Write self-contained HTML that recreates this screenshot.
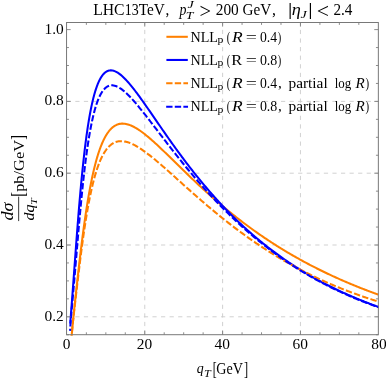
<!DOCTYPE html>
<html><head><meta charset="utf-8"><title>plot</title>
<style>html,body{margin:0;padding:0;background:#fff}body{width:386px;height:381px;overflow:hidden;font-family:"Liberation Serif",serif}</style></head>
<body>
<svg width="386" height="381" viewBox="0 0 386 381" style="display:block">
<rect width="386" height="381" fill="#fff"/>
<defs><clipPath id="c"><rect x="66.55" y="22.50" width="312.30" height="313.10"/></clipPath></defs>
<g stroke="#cccccc" stroke-width="0.9" fill="none"><g stroke-dasharray="4.2 4.39"><line x1="144.75" y1="334.70" x2="144.75" y2="22.50"/><line x1="222.60" y1="334.70" x2="222.60" y2="22.50"/><line x1="300.45" y1="334.70" x2="300.45" y2="22.50"/></g><g stroke-dasharray="4.2 4.37" stroke-dashoffset="-0.2"><line x1="66.55" y1="316.80" x2="378.35" y2="316.80"/><line x1="66.55" y1="245.00" x2="378.35" y2="245.00"/><line x1="66.55" y1="173.20" x2="378.35" y2="173.20"/><line x1="66.55" y1="101.40" x2="378.35" y2="101.40"/></g></g>
<g clip-path="url(#c)" fill="none" stroke-width="2.05" stroke-linejoin="round">
<path d="M71.31 340.00 L71.52 337.41 L71.73 334.91 L71.95 332.50 L72.16 330.16 L72.37 327.87 L72.58 325.64 L72.80 323.44 L73.01 321.28 L73.22 319.15 L73.43 317.04 L73.65 314.96 L73.86 312.89 L74.07 310.83 L74.28 308.79 L74.50 306.76 L74.71 304.74 L74.92 302.74 L75.13 300.73 L75.35 298.74 L75.56 296.76 L75.77 294.78 L75.98 292.81 L76.20 290.85 L76.41 288.90 L76.62 286.95 L76.84 285.02 L77.05 283.09 L77.26 281.16 L77.47 279.25 L77.69 277.34 L77.90 275.45 L78.11 273.56 L78.32 271.68 L78.54 269.82 L78.75 267.96 L78.96 266.11 L79.17 264.27 L79.39 262.45 L79.60 260.63 L79.81 258.83 L80.02 257.03 L80.24 255.25 L80.45 253.48 L80.66 251.73 L80.87 249.98 L81.09 248.25 L81.30 246.53 L81.51 244.83 L81.72 243.13 L81.94 241.45 L82.15 239.79 L82.36 238.13 L82.57 236.50 L82.79 234.87 L83.00 233.26 L83.21 231.66 L83.42 230.08 L83.64 228.51 L83.85 226.96 L84.06 225.42 L84.28 223.89 L84.49 222.38 L84.70 220.88 L84.91 219.40 L85.13 217.93 L85.34 216.48 L85.55 215.04 L85.76 213.62 L85.98 212.21 L86.19 210.81 L86.40 209.43 L86.61 208.07 L86.83 206.71 L87.04 205.38 L87.25 204.06 L87.46 202.75 L87.68 201.46 L87.89 200.18 L88.10 198.91 L88.31 197.66 L88.53 196.43 L88.74 195.21 L88.95 194.00 L89.16 192.80 L89.38 191.63 L89.59 190.46 L89.80 189.31 L90.01 188.17 L90.23 187.05 L90.44 185.94 L90.65 184.84 L90.86 183.76 L91.08 182.69 L91.29 181.63 L91.50 180.59 L91.72 179.56 L91.93 178.54 L92.14 177.54 L92.35 176.55 L92.57 175.57 L92.78 174.61 L92.99 173.65 L93.20 172.71 L93.42 171.79 L93.63 170.87 L93.84 169.97 L94.05 169.08 L94.27 168.20 L94.48 167.33 L94.69 166.48 L94.90 165.63 L95.12 164.80 L95.33 163.98 L95.54 163.17 L95.75 162.38 L95.97 161.59 L96.18 160.82 L96.39 160.05 L96.60 159.30 L96.82 158.56 L97.03 157.83 L97.24 157.11 L97.45 156.40 L97.67 155.70 L97.88 155.01 L98.09 154.33 L98.30 153.66 L98.52 153.00 L98.73 152.35 L98.94 151.71 L99.16 151.09 L99.37 150.47 L99.58 149.86 L99.79 149.26 L100.01 148.67 L100.22 148.09 L100.43 147.51 L100.64 146.95 L100.86 146.40 L101.07 145.85 L101.28 145.32 L101.49 144.79 L101.71 144.27 L101.92 143.76 L102.13 143.26 L102.34 142.76 L102.56 142.28 L102.77 141.80 L102.98 141.33 L103.19 140.87 L103.41 140.42 L103.62 139.98 L103.83 139.54 L104.04 139.11 L104.26 138.69 L104.47 138.28 L104.68 137.87 L104.89 137.47 L105.11 137.08 L105.32 136.69 L105.53 136.32 L105.74 135.95 L105.96 135.58 L106.17 135.23 L106.38 134.88 L106.60 134.54 L106.81 134.20 L107.02 133.87 L107.23 133.55 L107.45 133.23 L107.66 132.92 L107.87 132.62 L108.08 132.32 L108.30 132.03 L108.51 131.74 L108.72 131.47 L108.93 131.19 L109.15 130.93 L109.36 130.67 L109.57 130.41 L109.78 130.16 L110.00 129.92 L110.21 129.68 L110.42 129.45 L110.63 129.22 L110.85 129.00 L111.06 128.78 L111.27 128.57 L111.48 128.36 L111.70 128.16 L111.91 127.97 L112.12 127.78 L112.33 127.59 L112.55 127.41 L112.76 127.24 L112.97 127.07 L113.18 126.90 L113.40 126.74 L113.61 126.58 L114.63 125.89 L115.65 125.31 L116.68 124.82 L117.70 124.41 L118.72 124.10 L119.74 123.87 L120.76 123.71 L121.79 123.62 L122.81 123.60 L123.83 123.65 L124.85 123.76 L125.87 123.93 L126.90 124.15 L127.92 124.42 L128.94 124.74 L129.96 125.11 L130.98 125.52 L132.01 125.97 L133.03 126.45 L134.05 126.98 L135.07 127.54 L136.09 128.13 L137.12 128.75 L138.14 129.40 L139.16 130.07 L140.18 130.78 L141.20 131.50 L142.23 132.25 L143.25 133.01 L144.27 133.80 L145.29 134.61 L146.31 135.43 L147.33 136.27 L148.36 137.12 L149.38 137.99 L150.40 138.87 L151.42 139.76 L152.44 140.66 L153.47 141.58 L154.49 142.50 L155.51 143.43 L156.53 144.37 L157.55 145.32 L158.58 146.28 L159.60 147.24 L160.62 148.20 L161.64 149.17 L162.66 150.15 L163.69 151.13 L164.71 152.12 L165.73 153.10 L166.75 154.09 L167.77 155.09 L168.80 156.08 L169.82 157.08 L170.84 158.08 L171.86 159.08 L172.88 160.08 L173.91 161.08 L174.93 162.08 L175.95 163.08 L176.97 164.08 L177.99 165.08 L179.02 166.08 L180.04 167.08 L181.06 168.07 L182.08 169.07 L183.10 170.06 L184.13 171.05 L185.15 172.04 L186.17 173.03 L187.19 174.02 L188.21 175.00 L189.24 175.98 L190.26 176.96 L191.28 177.94 L192.30 178.91 L193.32 179.88 L194.35 180.85 L195.37 181.81 L196.39 182.77 L197.41 183.73 L198.43 184.68 L199.46 185.63 L200.48 186.58 L201.50 187.52 L202.52 188.46 L203.54 189.40 L204.57 190.33 L205.59 191.26 L206.61 192.19 L207.63 193.11 L208.65 194.02 L209.68 194.94 L210.70 195.85 L211.72 196.75 L212.74 197.65 L213.76 198.55 L214.78 199.44 L215.81 200.33 L216.83 201.22 L217.85 202.10 L218.87 202.97 L219.89 203.84 L220.92 204.71 L221.94 205.57 L222.96 206.43 L223.98 207.29 L225.00 208.14 L226.03 208.99 L227.05 209.83 L228.07 210.67 L229.09 211.50 L230.11 212.33 L231.14 213.15 L232.16 213.98 L233.18 214.79 L234.20 215.60 L235.22 216.41 L236.25 217.22 L237.27 218.02 L238.29 218.81 L239.31 219.60 L240.33 220.39 L241.36 221.17 L242.38 221.95 L243.40 222.72 L244.42 223.49 L245.44 224.26 L246.47 225.02 L247.49 225.78 L248.51 226.53 L249.53 227.28 L250.55 228.03 L251.58 228.77 L252.60 229.51 L253.62 230.24 L254.64 230.97 L255.66 231.69 L256.69 232.41 L257.71 233.13 L258.73 233.84 L259.75 234.55 L260.77 235.26 L261.80 235.96 L262.82 236.66 L263.84 237.35 L264.86 238.04 L265.88 238.72 L266.91 239.41 L267.93 240.08 L268.95 240.76 L269.97 241.43 L270.99 242.09 L272.02 242.76 L273.04 243.42 L274.06 244.07 L275.08 244.72 L276.10 245.37 L277.13 246.01 L278.15 246.65 L279.17 247.29 L280.19 247.92 L281.21 248.55 L282.23 249.18 L283.26 249.80 L284.28 250.42 L285.30 251.04 L286.32 251.65 L287.34 252.26 L288.37 252.86 L289.39 253.46 L290.41 254.06 L291.43 254.66 L292.45 255.25 L293.48 255.84 L294.50 256.42 L295.52 257.00 L296.54 257.58 L297.56 258.15 L298.59 258.72 L299.61 259.29 L300.63 259.86 L301.65 260.42 L302.67 260.98 L303.70 261.53 L304.72 262.09 L305.74 262.63 L306.76 263.18 L307.78 263.72 L308.81 264.26 L309.83 264.80 L310.85 265.33 L311.87 265.86 L312.89 266.39 L313.92 266.92 L314.94 267.44 L315.96 267.96 L316.98 268.47 L318.00 268.98 L319.03 269.49 L320.05 270.00 L321.07 270.50 L322.09 271.01 L323.11 271.50 L324.14 272.00 L325.16 272.49 L326.18 272.98 L327.20 273.47 L328.22 273.95 L329.25 274.43 L330.27 274.91 L331.29 275.39 L332.31 275.86 L333.33 276.33 L334.36 276.80 L335.38 277.27 L336.40 277.73 L337.42 278.19 L338.44 278.65 L339.47 279.10 L340.49 279.56 L341.51 280.01 L342.53 280.45 L343.55 280.90 L344.58 281.34 L345.60 281.78 L346.62 282.22 L347.64 282.65 L348.66 283.09 L349.68 283.52 L350.71 283.94 L351.73 284.37 L352.75 284.79 L353.77 285.21 L354.79 285.63 L355.82 286.05 L356.84 286.46 L357.86 286.87 L358.88 287.28 L359.90 287.69 L360.93 288.09 L361.95 288.49 L362.97 288.89 L363.99 289.29 L365.01 289.69 L366.04 290.08 L367.06 290.47 L368.08 290.86 L369.10 291.25 L370.12 291.63 L371.15 292.01 L372.17 292.40 L373.19 292.77 L374.21 293.15 L375.23 293.52 L376.26 293.90 L377.28 294.27 L378.30 294.63" stroke="#ff8000"/>
<path d="M70.27 323.50 L70.49 320.42 L70.70 317.45 L70.92 314.54 L71.14 311.67 L71.36 308.82 L71.57 305.97 L71.79 303.11 L72.01 300.25 L72.23 297.38 L72.45 294.49 L72.66 291.58 L72.88 288.66 L73.10 285.73 L73.32 282.79 L73.53 279.83 L73.75 276.87 L73.97 273.90 L74.19 270.93 L74.41 267.96 L74.62 264.99 L74.84 262.02 L75.06 259.06 L75.28 256.10 L75.50 253.15 L75.71 250.21 L75.93 247.28 L76.15 244.37 L76.37 241.47 L76.58 238.59 L76.80 235.72 L77.02 232.88 L77.24 230.05 L77.46 227.25 L77.67 224.47 L77.89 221.71 L78.11 218.98 L78.33 216.27 L78.54 213.59 L78.76 210.94 L78.98 208.31 L79.20 205.71 L79.42 203.14 L79.63 200.59 L79.85 198.08 L80.07 195.59 L80.29 193.14 L80.50 190.71 L80.72 188.32 L80.94 185.95 L81.16 183.62 L81.38 181.32 L81.59 179.04 L81.81 176.80 L82.03 174.59 L82.25 172.41 L82.46 170.27 L82.68 168.15 L82.90 166.06 L83.12 164.01 L83.34 161.98 L83.55 159.99 L83.77 158.02 L83.99 156.09 L84.21 154.18 L84.42 152.31 L84.64 150.47 L84.86 148.65 L85.08 146.87 L85.30 145.11 L85.51 143.38 L85.73 141.68 L85.95 140.01 L86.17 138.37 L86.39 136.76 L86.60 135.17 L86.82 133.61 L87.04 132.08 L87.26 130.57 L87.47 129.09 L87.69 127.64 L87.91 126.21 L88.13 124.81 L88.35 123.44 L88.56 122.08 L88.78 120.76 L89.00 119.46 L89.22 118.18 L89.43 116.93 L89.65 115.70 L89.87 114.49 L90.09 113.30 L90.31 112.14 L90.52 111.00 L90.74 109.89 L90.96 108.79 L91.18 107.72 L91.39 106.67 L91.61 105.64 L91.83 104.63 L92.05 103.64 L92.27 102.67 L92.48 101.72 L92.70 100.79 L92.92 99.88 L93.14 98.98 L93.35 98.11 L93.57 97.26 L93.79 96.42 L94.01 95.60 L94.23 94.80 L94.44 94.02 L94.66 93.25 L94.88 92.50 L95.10 91.77 L95.31 91.06 L95.53 90.36 L95.75 89.67 L95.97 89.01 L96.19 88.35 L96.40 87.72 L96.62 87.10 L96.84 86.49 L97.06 85.90 L97.28 85.32 L97.49 84.76 L97.71 84.21 L97.93 83.67 L98.15 83.15 L98.36 82.64 L98.58 82.14 L98.80 81.66 L99.02 81.19 L99.24 80.74 L99.45 80.29 L99.67 79.86 L99.89 79.44 L100.11 79.03 L100.32 78.63 L100.54 78.25 L100.76 77.87 L100.98 77.51 L101.20 77.16 L101.41 76.82 L101.63 76.49 L101.85 76.17 L102.07 75.86 L102.28 75.56 L102.50 75.27 L102.72 74.99 L102.94 74.72 L103.16 74.46 L103.37 74.21 L103.59 73.97 L103.81 73.73 L104.03 73.51 L104.24 73.30 L104.46 73.09 L104.68 72.89 L104.90 72.70 L105.12 72.52 L105.33 72.35 L105.55 72.19 L105.77 72.03 L105.99 71.88 L106.20 71.74 L106.42 71.61 L106.64 71.48 L106.86 71.36 L107.08 71.25 L107.29 71.15 L107.51 71.05 L107.73 70.96 L107.95 70.88 L108.17 70.80 L108.38 70.73 L108.60 70.67 L108.82 70.61 L109.04 70.56 L109.25 70.51 L109.47 70.48 L109.69 70.44 L109.91 70.42 L110.13 70.40 L110.34 70.38 L110.56 70.37 L110.78 70.37 L111.00 70.37 L111.21 70.38 L111.43 70.39 L111.65 70.41 L111.87 70.43 L112.09 70.46 L112.30 70.49 L112.52 70.53 L112.74 70.57 L112.96 70.62 L113.17 70.67 L113.39 70.72 L113.61 70.78 L114.63 71.13 L115.65 71.57 L116.68 72.09 L117.70 72.69 L118.72 73.36 L119.74 74.10 L120.76 74.91 L121.79 75.77 L122.81 76.69 L123.83 77.66 L124.85 78.68 L125.87 79.73 L126.90 80.83 L127.92 81.97 L128.94 83.14 L129.96 84.34 L130.98 85.58 L132.01 86.83 L133.03 88.12 L134.05 89.42 L135.07 90.75 L136.09 92.10 L137.12 93.46 L138.14 94.84 L139.16 96.23 L140.18 97.64 L141.20 99.06 L142.23 100.49 L143.25 101.93 L144.27 103.37 L145.29 104.83 L146.31 106.29 L147.33 107.76 L148.36 109.23 L149.38 110.70 L150.40 112.18 L151.42 113.66 L152.44 115.15 L153.47 116.63 L154.49 118.11 L155.51 119.60 L156.53 121.08 L157.55 122.57 L158.58 124.05 L159.60 125.53 L160.62 127.01 L161.64 128.49 L162.66 129.96 L163.69 131.43 L164.71 132.90 L165.73 134.36 L166.75 135.82 L167.77 137.28 L168.80 138.73 L169.82 140.17 L170.84 141.61 L171.86 143.05 L172.88 144.48 L173.91 145.90 L174.93 147.32 L175.95 148.74 L176.97 150.15 L177.99 151.55 L179.02 152.94 L180.04 154.33 L181.06 155.71 L182.08 157.09 L183.10 158.46 L184.13 159.82 L185.15 161.18 L186.17 162.53 L187.19 163.87 L188.21 165.20 L189.24 166.53 L190.26 167.85 L191.28 169.16 L192.30 170.47 L193.32 171.77 L194.35 173.06 L195.37 174.35 L196.39 175.62 L197.41 176.89 L198.43 178.15 L199.46 179.41 L200.48 180.66 L201.50 181.90 L202.52 183.13 L203.54 184.35 L204.57 185.57 L205.59 186.78 L206.61 187.98 L207.63 189.18 L208.65 190.37 L209.68 191.55 L210.70 192.72 L211.72 193.89 L212.74 195.04 L213.76 196.20 L214.78 197.34 L215.81 198.47 L216.83 199.60 L217.85 200.72 L218.87 201.84 L219.89 202.94 L220.92 204.04 L221.94 205.14 L222.96 206.22 L223.98 207.30 L225.00 208.37 L226.03 209.43 L227.05 210.49 L228.07 211.54 L229.09 212.58 L230.11 213.61 L231.14 214.64 L232.16 215.66 L233.18 216.68 L234.20 217.68 L235.22 218.68 L236.25 219.68 L237.27 220.66 L238.29 221.64 L239.31 222.62 L240.33 223.58 L241.36 224.54 L242.38 225.50 L243.40 226.44 L244.42 227.38 L245.44 228.31 L246.47 229.24 L247.49 230.16 L248.51 231.08 L249.53 231.98 L250.55 232.88 L251.58 233.78 L252.60 234.67 L253.62 235.55 L254.64 236.42 L255.66 237.29 L256.69 238.16 L257.71 239.02 L258.73 239.87 L259.75 240.71 L260.77 241.55 L261.80 242.38 L262.82 243.21 L263.84 244.03 L264.86 244.85 L265.88 245.66 L266.91 246.46 L267.93 247.26 L268.95 248.05 L269.97 248.84 L270.99 249.62 L272.02 250.40 L273.04 251.17 L274.06 251.93 L275.08 252.69 L276.10 253.44 L277.13 254.19 L278.15 254.94 L279.17 255.67 L280.19 256.41 L281.21 257.13 L282.23 257.85 L283.26 258.57 L284.28 259.28 L285.30 259.99 L286.32 260.69 L287.34 261.38 L288.37 262.08 L289.39 262.76 L290.41 263.44 L291.43 264.12 L292.45 264.79 L293.48 265.46 L294.50 266.12 L295.52 266.78 L296.54 267.43 L297.56 268.07 L298.59 268.72 L299.61 269.35 L300.63 269.99 L301.65 270.62 L302.67 271.24 L303.70 271.86 L304.72 272.48 L305.74 273.09 L306.76 273.69 L307.78 274.29 L308.81 274.89 L309.83 275.49 L310.85 276.07 L311.87 276.66 L312.89 277.24 L313.92 277.82 L314.94 278.39 L315.96 278.96 L316.98 279.52 L318.00 280.08 L319.03 280.63 L320.05 281.19 L321.07 281.73 L322.09 282.28 L323.11 282.82 L324.14 283.35 L325.16 283.88 L326.18 284.41 L327.20 284.94 L328.22 285.46 L329.25 285.97 L330.27 286.49 L331.29 286.99 L332.31 287.50 L333.33 288.00 L334.36 288.50 L335.38 288.99 L336.40 289.49 L337.42 289.97 L338.44 290.46 L339.47 290.94 L340.49 291.41 L341.51 291.89 L342.53 292.36 L343.55 292.82 L344.58 293.29 L345.60 293.75 L346.62 294.20 L347.64 294.66 L348.66 295.11 L349.68 295.55 L350.71 296.00 L351.73 296.44 L352.75 296.87 L353.77 297.31 L354.79 297.74 L355.82 298.17 L356.84 298.59 L357.86 299.01 L358.88 299.43 L359.90 299.85 L360.93 300.26 L361.95 300.67 L362.97 301.07 L363.99 301.48 L365.01 301.88 L366.04 302.28 L367.06 302.67 L368.08 303.06 L369.10 303.45 L370.12 303.84 L371.15 304.22 L372.17 304.60 L373.19 304.98 L374.21 305.36 L375.23 305.73 L376.26 306.10 L377.28 306.47 L378.30 306.83" stroke="#0000ff"/>
<path d="M71.29 340.00 L71.50 337.30 L71.71 334.76 L71.93 332.36 L72.14 330.08 L72.35 327.88 L72.56 325.76 L72.78 323.70 L72.99 321.68 L73.20 319.71 L73.42 317.76 L73.63 315.84 L73.84 313.94 L74.05 312.05 L74.27 310.18 L74.48 308.31 L74.69 306.46 L74.90 304.61 L75.12 302.76 L75.33 300.92 L75.54 299.08 L75.75 297.24 L75.97 295.41 L76.18 293.58 L76.39 291.76 L76.61 289.94 L76.82 288.12 L77.03 286.31 L77.24 284.50 L77.46 282.70 L77.67 280.90 L77.88 279.11 L78.09 277.32 L78.31 275.54 L78.52 273.77 L78.73 272.01 L78.94 270.25 L79.16 268.50 L79.37 266.76 L79.58 265.04 L79.80 263.32 L80.01 261.61 L80.22 259.91 L80.43 258.22 L80.65 256.54 L80.86 254.88 L81.07 253.23 L81.28 251.58 L81.50 249.96 L81.71 248.34 L81.92 246.74 L82.13 245.15 L82.35 243.57 L82.56 242.01 L82.77 240.46 L82.99 238.92 L83.20 237.40 L83.41 235.90 L83.62 234.40 L83.84 232.93 L84.05 231.46 L84.26 230.01 L84.47 228.58 L84.69 227.16 L84.90 225.76 L85.11 224.37 L85.32 222.99 L85.54 221.63 L85.75 220.29 L85.96 218.96 L86.18 217.64 L86.39 216.35 L86.60 215.06 L86.81 213.79 L87.03 212.54 L87.24 211.30 L87.45 210.07 L87.66 208.86 L87.88 207.67 L88.09 206.49 L88.30 205.32 L88.51 204.17 L88.73 203.04 L88.94 201.92 L89.15 200.81 L89.37 199.72 L89.58 198.64 L89.79 197.57 L90.00 196.52 L90.22 195.49 L90.43 194.47 L90.64 193.46 L90.85 192.46 L91.07 191.48 L91.28 190.51 L91.49 189.56 L91.71 188.62 L91.92 187.69 L92.13 186.78 L92.34 185.88 L92.56 184.99 L92.77 184.11 L92.98 183.25 L93.19 182.40 L93.41 181.56 L93.62 180.74 L93.83 179.92 L94.04 179.12 L94.26 178.33 L94.47 177.55 L94.68 176.79 L94.90 176.03 L95.11 175.29 L95.32 174.56 L95.53 173.84 L95.75 173.13 L95.96 172.43 L96.17 171.75 L96.38 171.07 L96.60 170.41 L96.81 169.75 L97.02 169.11 L97.23 168.47 L97.45 167.85 L97.66 167.24 L97.87 166.63 L98.09 166.04 L98.30 165.46 L98.51 164.88 L98.72 164.32 L98.94 163.76 L99.15 163.22 L99.36 162.68 L99.57 162.15 L99.79 161.63 L100.00 161.12 L100.21 160.62 L100.42 160.13 L100.64 159.65 L100.85 159.17 L101.06 158.71 L101.28 158.25 L101.49 157.80 L101.70 157.36 L101.91 156.93 L102.13 156.50 L102.34 156.08 L102.55 155.67 L102.76 155.27 L102.98 154.88 L103.19 154.49 L103.40 154.11 L103.61 153.74 L103.83 153.37 L104.04 153.01 L104.25 152.66 L104.47 152.32 L104.68 151.98 L104.89 151.65 L105.10 151.32 L105.32 151.01 L105.53 150.69 L105.74 150.39 L105.95 150.09 L106.17 149.80 L106.38 149.51 L106.59 149.23 L106.80 148.96 L107.02 148.69 L107.23 148.43 L107.44 148.18 L107.66 147.93 L107.87 147.68 L108.08 147.44 L108.29 147.21 L108.51 146.98 L108.72 146.76 L108.93 146.54 L109.14 146.33 L109.36 146.12 L109.57 145.92 L109.78 145.72 L109.99 145.53 L110.21 145.35 L110.42 145.17 L110.63 144.99 L110.85 144.82 L111.06 144.65 L111.27 144.49 L111.48 144.33 L111.70 144.18 L111.91 144.03 L112.12 143.88 L112.33 143.74 L112.55 143.61 L112.76 143.47 L112.97 143.35 L113.18 143.22 L113.40 143.10 L113.61 142.99 L114.63 142.49 L115.65 142.08 L116.68 141.75 L117.70 141.49 L118.72 141.31 L119.74 141.20 L120.76 141.15 L121.79 141.16 L122.81 141.22 L123.83 141.35 L124.85 141.52 L125.87 141.74 L126.90 142.00 L127.92 142.31 L128.94 142.65 L129.96 143.03 L130.98 143.45 L132.01 143.90 L133.03 144.38 L134.05 144.89 L135.07 145.43 L136.09 146.00 L137.12 146.59 L138.14 147.20 L139.16 147.83 L140.18 148.49 L141.20 149.16 L142.23 149.86 L143.25 150.57 L144.27 151.29 L145.29 152.03 L146.31 152.79 L147.33 153.55 L148.36 154.33 L149.38 155.13 L150.40 155.93 L151.42 156.74 L152.44 157.56 L153.47 158.39 L154.49 159.23 L155.51 160.08 L156.53 160.94 L157.55 161.80 L158.58 162.67 L159.60 163.54 L160.62 164.42 L161.64 165.30 L162.66 166.19 L163.69 167.08 L164.71 167.98 L165.73 168.88 L166.75 169.78 L167.77 170.68 L168.80 171.59 L169.82 172.50 L170.84 173.41 L171.86 174.33 L172.88 175.24 L173.91 176.16 L174.93 177.07 L175.95 177.99 L176.97 178.91 L177.99 179.82 L179.02 180.74 L180.04 181.66 L181.06 182.58 L182.08 183.50 L183.10 184.41 L184.13 185.33 L185.15 186.24 L186.17 187.16 L187.19 188.07 L188.21 188.98 L189.24 189.89 L190.26 190.80 L191.28 191.71 L192.30 192.61 L193.32 193.51 L194.35 194.41 L195.37 195.31 L196.39 196.21 L197.41 197.11 L198.43 198.00 L199.46 198.89 L200.48 199.78 L201.50 200.66 L202.52 201.54 L203.54 202.42 L204.57 203.30 L205.59 204.17 L206.61 205.04 L207.63 205.91 L208.65 206.78 L209.68 207.64 L210.70 208.50 L211.72 209.35 L212.74 210.21 L213.76 211.06 L214.78 211.90 L215.81 212.75 L216.83 213.59 L217.85 214.42 L218.87 215.25 L219.89 216.08 L220.92 216.91 L221.94 217.73 L222.96 218.55 L223.98 219.37 L225.00 220.18 L226.03 220.99 L227.05 221.79 L228.07 222.59 L229.09 223.39 L230.11 224.18 L231.14 224.97 L232.16 225.76 L233.18 226.54 L234.20 227.32 L235.22 228.09 L236.25 228.87 L237.27 229.63 L238.29 230.40 L239.31 231.16 L240.33 231.91 L241.36 232.66 L242.38 233.41 L243.40 234.16 L244.42 234.90 L245.44 235.63 L246.47 236.37 L247.49 237.10 L248.51 237.82 L249.53 238.54 L250.55 239.26 L251.58 239.97 L252.60 240.68 L253.62 241.39 L254.64 242.09 L255.66 242.79 L256.69 243.48 L257.71 244.17 L258.73 244.86 L259.75 245.54 L260.77 246.22 L261.80 246.90 L262.82 247.57 L263.84 248.24 L264.86 248.90 L265.88 249.56 L266.91 250.22 L267.93 250.87 L268.95 251.52 L269.97 252.16 L270.99 252.80 L272.02 253.44 L273.04 254.07 L274.06 254.70 L275.08 255.33 L276.10 255.95 L277.13 256.57 L278.15 257.18 L279.17 257.79 L280.19 258.40 L281.21 259.01 L282.23 259.61 L283.26 260.20 L284.28 260.79 L285.30 261.38 L286.32 261.97 L287.34 262.55 L288.37 263.13 L289.39 263.70 L290.41 264.28 L291.43 264.84 L292.45 265.41 L293.48 265.97 L294.50 266.52 L295.52 267.08 L296.54 267.63 L297.56 268.17 L298.59 268.72 L299.61 269.26 L300.63 269.79 L301.65 270.33 L302.67 270.85 L303.70 271.38 L304.72 271.90 L305.74 272.42 L306.76 272.94 L307.78 273.45 L308.81 273.96 L309.83 274.47 L310.85 274.97 L311.87 275.47 L312.89 275.96 L313.92 276.46 L314.94 276.94 L315.96 277.43 L316.98 277.91 L318.00 278.39 L319.03 278.87 L320.05 279.34 L321.07 279.81 L322.09 280.28 L323.11 280.75 L324.14 281.21 L325.16 281.66 L326.18 282.12 L327.20 282.57 L328.22 283.02 L329.25 283.46 L330.27 283.91 L331.29 284.35 L332.31 284.78 L333.33 285.22 L334.36 285.65 L335.38 286.08 L336.40 286.50 L337.42 286.92 L338.44 287.34 L339.47 287.76 L340.49 288.17 L341.51 288.58 L342.53 288.99 L343.55 289.39 L344.58 289.79 L345.60 290.19 L346.62 290.59 L347.64 290.98 L348.66 291.37 L349.68 291.76 L350.71 292.15 L351.73 292.53 L352.75 292.91 L353.77 293.29 L354.79 293.66 L355.82 294.04 L356.84 294.40 L357.86 294.77 L358.88 295.14 L359.90 295.50 L360.93 295.86 L361.95 296.21 L362.97 296.57 L363.99 296.92 L365.01 297.27 L366.04 297.61 L367.06 297.96 L368.08 298.30 L369.10 298.64 L370.12 298.97 L371.15 299.31 L372.17 299.64 L373.19 299.97 L374.21 300.30 L375.23 300.62 L376.26 300.94 L377.28 301.26 L378.30 301.58" stroke="#ff8000" stroke-dasharray="4.34 4.34" stroke-dashoffset="0.40" stroke-linecap="square"/>
<path d="M70.12 329.90 L70.34 326.20 L70.56 322.93 L70.77 319.97 L70.99 317.22 L71.21 314.63 L71.43 312.13 L71.65 309.70 L71.87 307.30 L72.09 304.92 L72.30 302.55 L72.52 300.16 L72.74 297.77 L72.96 295.35 L73.18 292.92 L73.40 290.47 L73.62 287.99 L73.83 285.50 L74.05 282.99 L74.27 280.46 L74.49 277.91 L74.71 275.35 L74.93 272.78 L75.15 270.19 L75.36 267.60 L75.58 265.00 L75.80 262.40 L76.02 259.79 L76.24 257.18 L76.46 254.58 L76.67 251.97 L76.89 249.38 L77.11 246.78 L77.33 244.20 L77.55 241.62 L77.77 239.05 L77.99 236.50 L78.20 233.96 L78.42 231.43 L78.64 228.92 L78.86 226.43 L79.08 223.95 L79.30 221.49 L79.52 219.05 L79.73 216.63 L79.95 214.24 L80.17 211.86 L80.39 209.51 L80.61 207.18 L80.83 204.87 L81.05 202.58 L81.26 200.33 L81.48 198.09 L81.70 195.88 L81.92 193.70 L82.14 191.54 L82.36 189.41 L82.58 187.30 L82.79 185.23 L83.01 183.17 L83.23 181.15 L83.45 179.15 L83.67 177.18 L83.89 175.24 L84.11 173.32 L84.32 171.43 L84.54 169.57 L84.76 167.73 L84.98 165.92 L85.20 164.14 L85.42 162.39 L85.64 160.66 L85.85 158.96 L86.07 157.28 L86.29 155.64 L86.51 154.01 L86.73 152.42 L86.95 150.85 L87.17 149.31 L87.38 147.79 L87.60 146.30 L87.82 144.83 L88.04 143.39 L88.26 141.97 L88.48 140.58 L88.70 139.21 L88.91 137.86 L89.13 136.54 L89.35 135.24 L89.57 133.97 L89.79 132.72 L90.01 131.49 L90.23 130.29 L90.44 129.11 L90.66 127.94 L90.88 126.81 L91.10 125.69 L91.32 124.59 L91.54 123.52 L91.75 122.47 L91.97 121.43 L92.19 120.42 L92.41 119.43 L92.63 118.45 L92.85 117.50 L93.07 116.57 L93.28 115.65 L93.50 114.76 L93.72 113.88 L93.94 113.02 L94.16 112.18 L94.38 111.36 L94.60 110.55 L94.81 109.76 L95.03 108.99 L95.25 108.24 L95.47 107.50 L95.69 106.78 L95.91 106.07 L96.13 105.38 L96.34 104.71 L96.56 104.05 L96.78 103.41 L97.00 102.78 L97.22 102.16 L97.44 101.57 L97.66 100.98 L97.87 100.41 L98.09 99.85 L98.31 99.31 L98.53 98.78 L98.75 98.27 L98.97 97.76 L99.19 97.27 L99.40 96.80 L99.62 96.33 L99.84 95.88 L100.06 95.44 L100.28 95.01 L100.50 94.59 L100.72 94.19 L100.93 93.79 L101.15 93.41 L101.37 93.04 L101.59 92.68 L101.81 92.33 L102.03 91.99 L102.25 91.66 L102.46 91.34 L102.68 91.03 L102.90 90.73 L103.12 90.44 L103.34 90.16 L103.56 89.89 L103.78 89.63 L103.99 89.38 L104.21 89.14 L104.43 88.90 L104.65 88.68 L104.87 88.46 L105.09 88.25 L105.31 88.05 L105.52 87.86 L105.74 87.68 L105.96 87.50 L106.18 87.34 L106.40 87.18 L106.62 87.02 L106.83 86.88 L107.05 86.74 L107.27 86.61 L107.49 86.49 L107.71 86.37 L107.93 86.26 L108.15 86.16 L108.36 86.06 L108.58 85.97 L108.80 85.88 L109.02 85.81 L109.24 85.74 L109.46 85.67 L109.68 85.61 L109.89 85.56 L110.11 85.51 L110.33 85.47 L110.55 85.44 L110.77 85.41 L110.99 85.38 L111.21 85.36 L111.42 85.35 L111.64 85.34 L111.86 85.33 L112.08 85.34 L112.30 85.34 L112.52 85.35 L112.74 85.37 L112.95 85.39 L113.17 85.41 L113.39 85.44 L113.61 85.48 L114.63 85.70 L115.65 86.01 L116.68 86.40 L117.70 86.87 L118.72 87.41 L119.74 88.01 L120.76 88.68 L121.79 89.41 L122.81 90.18 L123.83 91.01 L124.85 91.88 L125.87 92.79 L126.90 93.74 L127.92 94.73 L128.94 95.75 L129.96 96.80 L130.98 97.88 L132.01 98.98 L133.03 100.11 L134.05 101.26 L135.07 102.43 L136.09 103.62 L137.12 104.83 L138.14 106.05 L139.16 107.28 L140.18 108.53 L141.20 109.79 L142.23 111.06 L143.25 112.34 L144.27 113.63 L145.29 114.93 L146.31 116.23 L147.33 117.54 L148.36 118.85 L149.38 120.17 L150.40 121.50 L151.42 122.82 L152.44 124.15 L153.47 125.48 L154.49 126.82 L155.51 128.15 L156.53 129.49 L157.55 130.82 L158.58 132.16 L159.60 133.49 L160.62 134.83 L161.64 136.16 L162.66 137.49 L163.69 138.82 L164.71 140.15 L165.73 141.48 L166.75 142.80 L167.77 144.12 L168.80 145.44 L169.82 146.76 L170.84 148.07 L171.86 149.38 L172.88 150.68 L173.91 151.98 L174.93 153.28 L175.95 154.57 L176.97 155.86 L177.99 157.14 L179.02 158.42 L180.04 159.70 L181.06 160.97 L182.08 162.24 L183.10 163.50 L184.13 164.75 L185.15 166.00 L186.17 167.25 L187.19 168.49 L188.21 169.73 L189.24 170.96 L190.26 172.18 L191.28 173.40 L192.30 174.61 L193.32 175.82 L194.35 177.02 L195.37 178.22 L196.39 179.41 L197.41 180.60 L198.43 181.77 L199.46 182.95 L200.48 184.12 L201.50 185.28 L202.52 186.43 L203.54 187.58 L204.57 188.73 L205.59 189.87 L206.61 191.00 L207.63 192.13 L208.65 193.25 L209.68 194.36 L210.70 195.47 L211.72 196.57 L212.74 197.67 L213.76 198.76 L214.78 199.84 L215.81 200.92 L216.83 201.99 L217.85 203.06 L218.87 204.12 L219.89 205.17 L220.92 206.22 L221.94 207.26 L222.96 208.30 L223.98 209.33 L225.00 210.35 L226.03 211.37 L227.05 212.38 L228.07 213.39 L229.09 214.39 L230.11 215.38 L231.14 216.37 L232.16 217.35 L233.18 218.33 L234.20 219.30 L235.22 220.26 L236.25 221.22 L237.27 222.17 L238.29 223.12 L239.31 224.06 L240.33 225.00 L241.36 225.92 L242.38 226.85 L243.40 227.77 L244.42 228.68 L245.44 229.58 L246.47 230.48 L247.49 231.38 L248.51 232.27 L249.53 233.15 L250.55 234.03 L251.58 234.90 L252.60 235.76 L253.62 236.63 L254.64 237.48 L255.66 238.33 L256.69 239.17 L257.71 240.01 L258.73 240.85 L259.75 241.67 L260.77 242.49 L261.80 243.31 L262.82 244.12 L263.84 244.93 L264.86 245.73 L265.88 246.52 L266.91 247.31 L267.93 248.10 L268.95 248.88 L269.97 249.65 L270.99 250.42 L272.02 251.19 L273.04 251.94 L274.06 252.70 L275.08 253.45 L276.10 254.19 L277.13 254.93 L278.15 255.66 L279.17 256.39 L280.19 257.11 L281.21 257.83 L282.23 258.54 L283.26 259.25 L284.28 259.96 L285.30 260.65 L286.32 261.35 L287.34 262.04 L288.37 262.72 L289.39 263.40 L290.41 264.08 L291.43 264.75 L292.45 265.41 L293.48 266.07 L294.50 266.73 L295.52 267.38 L296.54 268.03 L297.56 268.67 L298.59 269.31 L299.61 269.94 L300.63 270.57 L301.65 271.20 L302.67 271.82 L303.70 272.43 L304.72 273.05 L305.74 273.65 L306.76 274.26 L307.78 274.85 L308.81 275.45 L309.83 276.04 L310.85 276.62 L311.87 277.21 L312.89 277.78 L313.92 278.36 L314.94 278.93 L315.96 279.49 L316.98 280.05 L318.00 280.61 L319.03 281.16 L320.05 281.71 L321.07 282.26 L322.09 282.80 L323.11 283.34 L324.14 283.87 L325.16 284.40 L326.18 284.93 L327.20 285.45 L328.22 285.97 L329.25 286.48 L330.27 286.99 L331.29 287.50 L332.31 288.00 L333.33 288.50 L334.36 289.00 L335.38 289.49 L336.40 289.98 L337.42 290.47 L338.44 290.95 L339.47 291.43 L340.49 291.90 L341.51 292.37 L342.53 292.84 L343.55 293.30 L344.58 293.77 L345.60 294.22 L346.62 294.68 L347.64 295.13 L348.66 295.58 L349.68 296.02 L350.71 296.46 L351.73 296.90 L352.75 297.33 L353.77 297.76 L354.79 298.19 L355.82 298.62 L356.84 299.04 L357.86 299.46 L358.88 299.87 L359.90 300.29 L360.93 300.69 L361.95 301.10 L362.97 301.50 L363.99 301.90 L365.01 302.30 L366.04 302.70 L367.06 303.09 L368.08 303.48 L369.10 303.86 L370.12 304.24 L371.15 304.62 L372.17 305.00 L373.19 305.37 L374.21 305.75 L375.23 306.11 L376.26 306.48 L377.28 306.84 L378.30 307.20" stroke="#0000ff" stroke-dasharray="4.3 4.3" stroke-dashoffset="4.20" stroke-linecap="square"/>
</g>
<path d="M86.36 334.70v-2.40M86.36 22.50v2.40M105.83 334.70v-2.40M105.83 22.50v2.40M125.29 334.70v-2.40M125.29 22.50v2.40M144.75 334.70v-4.10M144.75 22.50v4.10M164.21 334.70v-2.40M164.21 22.50v2.40M183.68 334.70v-2.40M183.68 22.50v2.40M203.14 334.70v-2.40M203.14 22.50v2.40M222.60 334.70v-4.10M222.60 22.50v4.10M242.06 334.70v-2.40M242.06 22.50v2.40M261.52 334.70v-2.40M261.52 22.50v2.40M280.99 334.70v-2.40M280.99 22.50v2.40M300.45 334.70v-4.10M300.45 22.50v4.10M319.91 334.70v-2.40M319.91 22.50v2.40M339.38 334.70v-2.40M339.38 22.50v2.40M358.84 334.70v-2.40M358.84 22.50v2.40M66.55 334.75h2.40M378.35 334.75h-2.40M66.55 316.80h4.10M378.35 316.80h-4.10M66.55 298.85h2.40M378.35 298.85h-2.40M66.55 280.90h2.40M378.35 280.90h-2.40M66.55 262.95h2.40M378.35 262.95h-2.40M66.55 245.00h4.10M378.35 245.00h-4.10M66.55 227.05h2.40M378.35 227.05h-2.40M66.55 209.10h2.40M378.35 209.10h-2.40M66.55 191.15h2.40M378.35 191.15h-2.40M66.55 173.20h4.10M378.35 173.20h-4.10M66.55 155.25h2.40M378.35 155.25h-2.40M66.55 137.30h2.40M378.35 137.30h-2.40M66.55 119.35h2.40M378.35 119.35h-2.40M66.55 101.40h4.10M378.35 101.40h-4.10M66.55 83.45h2.40M378.35 83.45h-2.40M66.55 65.50h2.40M378.35 65.50h-2.40M66.55 47.55h2.40M378.35 47.55h-2.40M66.55 29.60h4.10M378.35 29.60h-4.10" stroke="#707070" stroke-width="0.8" fill="none"/>
<rect x="66.55" y="22.50" width="311.80" height="312.20" fill="none" stroke="#787878" stroke-width="1"/>
<line x1="166.4" y1="36.80" x2="187.8" y2="36.80" stroke="#ff8000" stroke-width="2.05"/>
<line x1="166.4" y1="59.95" x2="187.8" y2="59.95" stroke="#0000ff" stroke-width="2.05"/>
<line x1="167.2" y1="83.30" x2="187.0" y2="83.30" stroke="#ff8000" stroke-width="2.05" stroke-dasharray="4.3 4.3" stroke-linecap="square"/>
<line x1="167.2" y1="106.80" x2="187.0" y2="106.80" stroke="#0000ff" stroke-width="2.05" stroke-dasharray="4.3 4.3" stroke-linecap="square"/>
<g font-family="'Liberation Serif', serif" fill="#000" style="opacity:0.999">
<text x="66.60" y="349.10" font-size="15.40" text-anchor="middle">0</text>
<text x="144.45" y="349.10" font-size="15.40" text-anchor="middle">20</text>
<text x="222.30" y="349.10" font-size="15.40" text-anchor="middle">40</text>
<text x="300.15" y="349.10" font-size="15.40" text-anchor="middle">60</text>
<text x="379.00" y="349.10" font-size="15.40" text-anchor="middle">80</text>
<text x="63.80" y="320.70" font-size="15.40" text-anchor="end">0.2</text>
<text x="63.80" y="248.90" font-size="15.40" text-anchor="end">0.4</text>
<text x="63.80" y="177.10" font-size="15.40" text-anchor="end">0.6</text>
<text x="63.80" y="105.30" font-size="15.40" text-anchor="end">0.8</text>
<text x="63.80" y="33.50" font-size="15.40" text-anchor="end">1.0</text>
<text transform="translate(196.65 372.90) scale(0.9047 1.0000)" font-size="15.40" font-style="italic">q</text>
<text transform="translate(204.01 376.50) scale(1.2689 1.0000)" font-size="9.60" font-style="italic">T</text>
<text transform="translate(212.72 375.13) scale(0.7491 1.1739)" font-size="15.60">[</text>
<text transform="translate(216.34 373.60) scale(0.8990 1.0000)" font-size="15.70">GeV</text>
<text transform="translate(243.96 375.13) scale(0.7977 1.1739)" font-size="15.60">]</text>
<text transform="translate(24.23 196.78) rotate(-90) scale(0.9339 1.1892)" font-size="15.40">[</text>
<text transform="translate(23.90 191.85) rotate(-90) scale(1.0650 1.0000)" font-size="15.40">pb/GeV</text>
<text transform="translate(24.23 139.80) rotate(-90) scale(0.9235 1.1892)" font-size="15.40">]</text>
<text transform="translate(12.80 220.55) rotate(-90) scale(1.1090 1.0000)" font-size="16.40" font-style="italic">dσ</text>
<text transform="translate(33.60 220.48) rotate(-90) scale(1.0825 1.0000)" font-size="14.82" font-style="italic">dq</text>
<text transform="translate(36.70 204.76) rotate(-90) scale(1.3610 1.0000)" font-size="8.55" font-style="italic">T</text>
<line x1="18.65" y1="196.7" x2="18.65" y2="221.1" stroke="#222" stroke-width="0.9"/>
<text transform="translate(93.17 14.90) scale(0.9811 1.0000)" font-size="16.00">LHC</text>
<text transform="translate(124.78 14.90) scale(0.8739 1.0000)" font-size="16.00">13</text>
<text transform="translate(138.63 14.90) scale(0.9538 1.0000)" font-size="16.00">TeV</text>
<text transform="translate(165.52 14.90) scale(0.9583 1.0000)" font-size="16.00">,</text>
<text transform="translate(179.50 14.90) scale(0.8649 1.0000)" font-size="16.00" font-style="italic">p</text>
<text transform="translate(185.70 19.10) scale(1.3818 1.0000)" font-size="10.00" font-style="italic">T</text>
<text transform="translate(187.39 7.70) scale(1.3575 1.0000)" font-size="10.40" font-style="italic">J</text>
<text transform="translate(199.47 18.13) scale(1.2834 1.2694)" font-size="16.00">&gt;</text>
<text transform="translate(215.75 14.90) scale(0.9595 1.0000)" font-size="16.00">200</text>
<text transform="translate(242.59 14.90) scale(0.9503 1.0000)" font-size="16.00">GeV</text>
<text transform="translate(272.00 14.90) scale(1.0000 1.0000)" font-size="16.00">,</text>
<text transform="translate(287.70 14.97) scale(1.5000 1.0852)" font-size="16.00">|</text>
<text transform="translate(291.86 14.90) scale(1.1458 1.0000)" font-size="16.00" font-style="italic">η</text>
<text transform="translate(300.49 18.00) scale(1.3319 1.0000)" font-size="10.60" font-style="italic">J</text>
<text transform="translate(307.90 14.97) scale(1.5000 1.0852)" font-size="16.00">|</text>
<text transform="translate(316.81 17.87) scale(1.3575 1.2953)" font-size="16.00">&lt;</text>
<text transform="translate(333.45 14.90) scale(0.9486 1.0000)" font-size="16.00">2.4</text>
<text transform="translate(190.51 41.50) scale(1.0235 1.0000)" font-size="13.80">NLL</text>
<text transform="translate(217.52 43.20) scale(1.2431 1.0000)" font-size="9.40">p</text>
<text transform="translate(226.75 41.89) scale(0.7598 1.0939)" font-size="13.80">(</text>
<text transform="translate(231.89 41.50) scale(1.2681 1.0000)" font-size="13.80" font-style="italic">R</text>
<text transform="translate(245.81 41.50) scale(1.4337 1.0000)" font-size="13.80">=</text>
<text transform="translate(259.89 41.50) scale(0.9924 1.0000)" font-size="13.80">0.4</text>
<text transform="translate(277.86 41.89) scale(0.7598 1.0939)" font-size="13.80">)</text>
<text transform="translate(190.51 64.70) scale(1.0235 1.0000)" font-size="13.80">NLL</text>
<text transform="translate(217.52 66.40) scale(1.2431 1.0000)" font-size="9.40">p</text>
<text transform="translate(226.75 65.09) scale(0.7598 1.0939)" font-size="13.80">(</text>
<text transform="translate(231.35 64.70) scale(1.1935 1.0000)" font-size="13.80">R</text>
<text transform="translate(245.81 64.70) scale(1.4337 1.0000)" font-size="13.80">=</text>
<text transform="translate(259.88 64.70) scale(1.0114 1.0000)" font-size="13.80">0.8</text>
<text transform="translate(277.86 65.09) scale(0.7598 1.0939)" font-size="13.80">)</text>
<text transform="translate(190.51 87.90) scale(1.0235 1.0000)" font-size="13.80">NLL</text>
<text transform="translate(217.52 89.60) scale(1.2431 1.0000)" font-size="9.40">p</text>
<text transform="translate(226.75 88.29) scale(0.7598 1.0939)" font-size="13.80">(</text>
<text transform="translate(231.89 87.90) scale(1.2681 1.0000)" font-size="13.80" font-style="italic">R</text>
<text transform="translate(245.81 87.90) scale(1.4337 1.0000)" font-size="13.80">=</text>
<text transform="translate(259.89 87.90) scale(0.9924 1.0000)" font-size="13.80">0.4</text>
<text transform="translate(278.03 87.90) scale(1.1111 1.0000)" font-size="13.80">,</text>
<text transform="translate(288.47 87.90) scale(1.1128 1.0000)" font-size="13.80">partial</text>
<text transform="translate(334.74 87.90) scale(0.9369 1.0000)" font-size="13.80">log</text>
<text transform="translate(355.58 87.90) scale(1.0990 1.0000)" font-size="13.80" font-style="italic">R</text>
<text transform="translate(365.45 88.29) scale(0.7880 1.0939)" font-size="13.80">)</text>
<text transform="translate(190.51 111.10) scale(1.0235 1.0000)" font-size="13.80">NLL</text>
<text transform="translate(217.52 112.80) scale(1.2431 1.0000)" font-size="9.40">p</text>
<text transform="translate(226.75 111.49) scale(0.7598 1.0939)" font-size="13.80">(</text>
<text transform="translate(231.89 111.10) scale(1.2681 1.0000)" font-size="13.80" font-style="italic">R</text>
<text transform="translate(245.81 111.10) scale(1.4337 1.0000)" font-size="13.80">=</text>
<text transform="translate(259.88 111.10) scale(1.0114 1.0000)" font-size="13.80">0.8</text>
<text transform="translate(278.03 111.10) scale(1.1111 1.0000)" font-size="13.80">,</text>
<text transform="translate(288.47 111.10) scale(1.1128 1.0000)" font-size="13.80">partial</text>
<text transform="translate(334.74 111.10) scale(0.9369 1.0000)" font-size="13.80">log</text>
<text transform="translate(355.58 111.10) scale(1.0990 1.0000)" font-size="13.80" font-style="italic">R</text>
<text transform="translate(365.45 111.49) scale(0.7880 1.0939)" font-size="13.80">)</text>
</g>
</svg>
</body></html>
